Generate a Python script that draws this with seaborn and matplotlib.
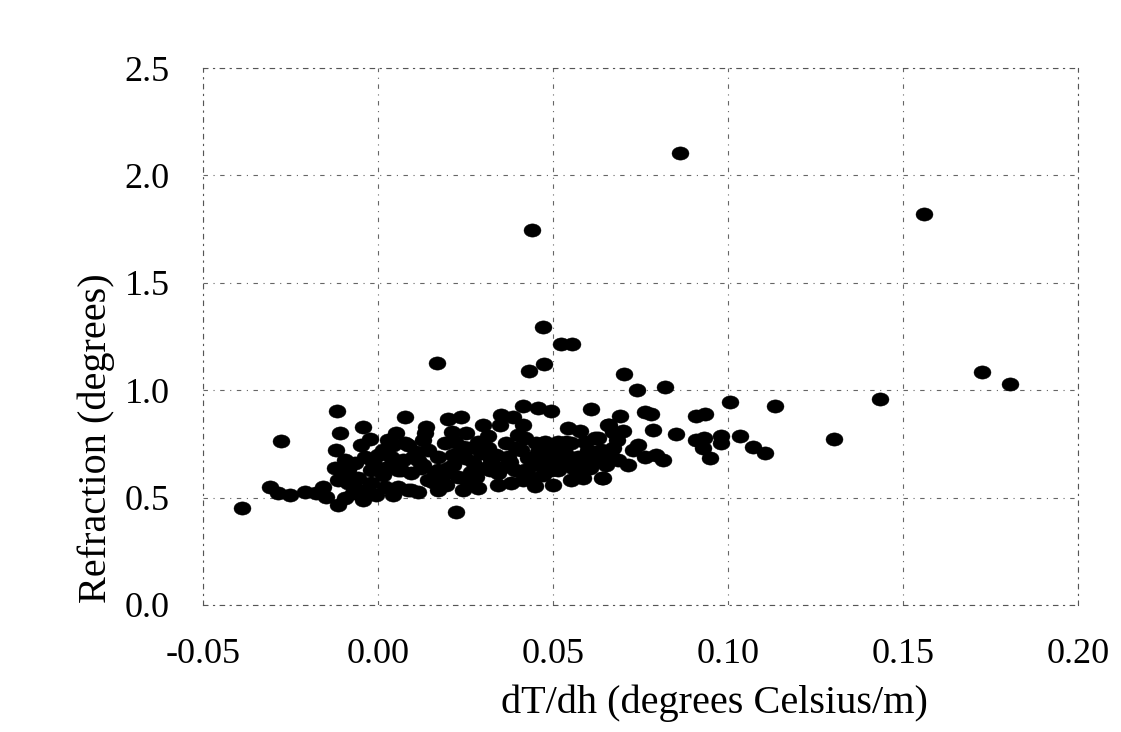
import numpy as np
import pandas as pd
import matplotlib
matplotlib.use("Agg")
import matplotlib.pyplot as plt
from matplotlib.path import Path
import seaborn as sns

# ---- data ----
dTdh = [
    -0.0389, -0.0309, -0.0277, -0.0286, -0.0251, -0.0209, -0.0177, -0.0157, -0.0149, -0.0114,
    -0.0094, -0.0071, -0.0114, -0.0086, -0.0057, -0.0037, -0.0020, 0.0020, 0.0057, 0.0086,
    -0.0117, -0.0109, -0.0043, -0.0023, 0.0051, 0.0029, 0.0086, -0.0120, -0.0123, -0.0094,
    -0.0066, -0.0037, 0.0000, 0.0037, -0.0020, 0.0020, 0.0057, 0.0094,
    0.0077, 0.0137, 0.0134, 0.0200, 0.0237, 0.0251, 0.0314, 0.0351, 0.0386, 0.0414,
    0.0457, 0.0494, 0.0414, 0.0349, 0.0609, 0.0657, 0.0543, 0.0577, 0.0620, 0.0077,
    0.0191, 0.0220, 0.0243, 0.0286, 0.0366, 0.0420, 0.0477, 0.0514, 0.0551, 0.0591,
    0.0637, 0.0666, 0.0143, 0.0171, 0.0114, 0.0249, 0.0294, 0.0323, 0.0371, 0.0409,
    0.0457, 0.0486, 0.0534, 0.0571, 0.0066, 0.0123, 0.0163, 0.0200, 0.0229, 0.0266,
    0.0306, 0.0343, 0.0391, 0.0420, 0.0477, 0.0506, 0.0534, 0.0591, 0.0380, 0.0443,
    0.0449, 0.0551, 0.0586, 0.0640, 0.0194, 0.0257, 0.0094, 0.0223,
    0.0703, 0.0740, 0.0820, 0.1006, 0.1134, 0.0691, 0.0660, 0.0700, 0.0763, 0.0780,
    0.0786, 0.0851, 0.0909, 0.0934, 0.0909, 0.0931, 0.0929, 0.0949, 0.0980, 0.0980,
    0.1034, 0.1071, 0.1106, 0.0671, 0.0643, 0.0686, 0.0763, 0.0794, 0.0814, 0.0643,
    0.1303, 0.1434, 0.1726, 0.1806, 0.1560, 0.0863, 0.0440, 0.0471, 0.0523, 0.0554,
    0.0169, 0.0474, 0.0431,
    0.0100, 0.0214, 0.0271, 0.0357, 0.0443, 0.0514, 0.0557, 0.0043, 0.0129, 0.0171,
    0.0314, 0.0429, 0.0500, 0.0614, 0.0014, 0.0043, -0.0086, -0.0049, 0.0143, 0.0286,
    0.0343, 0.0471, 0.0600, 0.0683, 0.0743, 0.0400,
    -0.0100, -0.0071, -0.0014, 0.0014, 0.0043, 0.0071, 0.0109, 0.0129, 0.0157, 0.0186,
    0.0214, 0.0257, 0.0280, 0.0320, 0.0337, 0.0377, 0.0394, 0.0414, 0.0451, 0.0471,
    0.0494, 0.0520, 0.0537, 0.0571, 0.0606, 0.0629, 0.0651, 0.0671, 0.0714, 0.0729,
    -0.0043, -0.0006, 0.0114, 0.0171, 0.0243, 0.0500, 0.0629, 0.0211, 0.0300,
]
refraction = [
    0.452, 0.549, 0.764, 0.521, 0.512, 0.526, 0.521, 0.549, 0.503, 0.466,
    0.498, 0.521, 0.582, 0.568, 0.591, 0.535, 0.568, 0.549, 0.549, 0.535,
    0.903, 0.801, 0.829, 0.773, 0.801, 0.768, 0.745, 0.722, 0.638, 0.675,
    0.661, 0.689, 0.698, 0.689, 0.628, 0.638, 0.628, 0.615,
    0.875, 0.829, 0.801, 0.866, 0.875, 0.801, 0.787, 0.885, 0.875, 0.926,
    0.917, 0.903, 0.838, 0.838, 0.912, 0.838, 0.824, 0.810, 0.777, 0.754,
    0.754, 0.759, 0.736, 0.759, 0.754, 0.777, 0.759, 0.759, 0.754, 0.759,
    0.722, 0.722, 0.722, 0.689, 0.675, 0.684, 0.708, 0.675, 0.689, 0.722,
    0.712, 0.712, 0.708, 0.689, 0.628, 0.638, 0.619, 0.638, 0.596, 0.619,
    0.638, 0.615, 0.628, 0.628, 0.638, 0.661, 0.675, 0.675, 0.568, 0.591,
    0.554, 0.582, 0.591, 0.591, 0.559, 0.573, 0.535, 0.433,
    1.075, 1.001, 1.015, 0.945, 0.926, 0.880, 0.838, 0.810, 0.899, 0.889,
    0.815, 0.796, 0.880, 0.889, 0.768, 0.777, 0.731, 0.684, 0.787, 0.754,
    0.787, 0.736, 0.708, 0.731, 0.684, 0.675, 0.689, 0.698, 0.675, 0.591,
    0.773, 0.959, 1.085, 1.029, 1.820, 2.104, 1.746, 1.294, 1.215, 1.215,
    1.127, 1.122, 1.089,
    0.689, 0.652, 0.666, 0.643, 0.652, 0.628, 0.638, 0.661, 0.768, 0.628,
    0.731, 0.684, 0.722, 0.666, 0.605, 0.512, 0.628, 0.745, 0.582, 0.545,
    0.559, 0.605, 0.722, 0.768, 0.745, 0.791,
    0.605, 0.559, 0.666, 0.722, 0.745, 0.675, 0.712, 0.652, 0.573, 0.605,
    0.698, 0.731, 0.596, 0.628, 0.698, 0.666, 0.731, 0.582, 0.754, 0.675,
    0.628, 0.698, 0.759, 0.628, 0.638, 0.698, 0.652, 0.805, 0.652, 0.722,
    0.489, 0.512, 0.526, 0.535, 0.535, 0.559, 0.777, 0.805, 0.838,
]
x_ticks = [-0.05, 0.00, 0.05, 0.10, 0.15, 0.20]
x_tick_labels = ["-0.05", "0.00", "0.05", "0.10", "0.15", "0.20"]
y_ticks = [0.0, 0.5, 1.0, 1.5, 2.0, 2.5]
y_tick_labels = ["0.0", "0.5", "1.0", "1.5", "2.0", "2.5"]

df = pd.DataFrame({"dTdh": dTdh, "refraction": refraction})

sns.set_style("white")
plt.rcParams["font.family"] = ["Liberation Serif", "DejaVu Serif"]

fig = plt.figure(figsize=(11.21, 7.32), dpi=100)
ax = fig.add_axes([0.181, 0.1735, 0.7805, 0.7336])

# slightly wide elliptical dot, like the scanned markers
t = np.linspace(0, 2 * np.pi, 60)
ell = Path(np.column_stack([np.cos(t), 0.78 * np.sin(t)]), closed=True)

sns.scatterplot(data=df, x="dTdh", y="refraction", ax=ax, marker=ell,
                s=150, color="black", edgecolor="black", linewidth=0.3,
                legend=False, zorder=3)

ax.set_xlim(-0.05, 0.20)
ax.set_ylim(0.0, 2.5)
ax.set_xticks(x_ticks)
ax.set_xticklabels(x_tick_labels)
ax.set_yticks(y_ticks)
ax.set_yticklabels(y_tick_labels)
ax.tick_params(axis="both", length=0, labelsize=26, colors="black")
ax.tick_params(axis="x", pad=24)
ax.tick_params(axis="y", pad=24)

ax.grid(True, color="#666666", linestyle=(0, (4, 5, 1, 5)), linewidth=0.8, zorder=0)
for sp in ax.spines.values():
    sp.set_visible(True)
    sp.set_color("#555555")
    sp.set_linewidth(0.8)
    sp.set_linestyle((0, (4, 5, 1, 5)))

ax.set_xlabel("dT/dh (degrees Celsius/m)", fontsize=29, color="black")
ax.set_ylabel("Refraction (degrees)", fontsize=29, color="black")
ax.xaxis.set_label_coords(0.585, -0.148)
ax.yaxis.set_label_coords(-0.10, 0.31)

fig.savefig("out.png", dpi=100, facecolor="white")
